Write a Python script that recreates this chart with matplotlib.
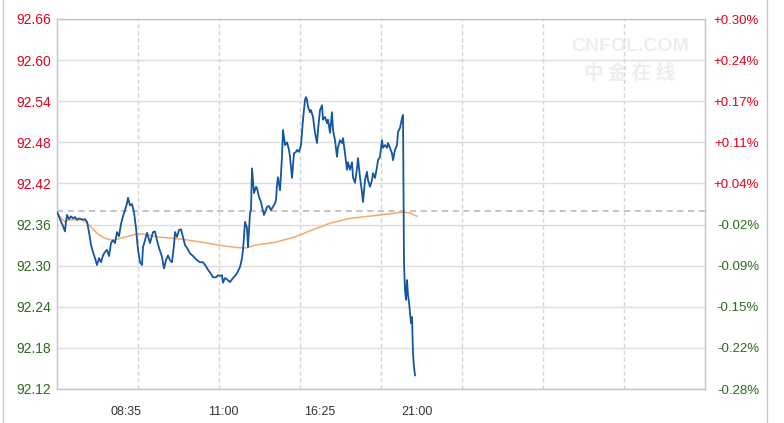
import matplotlib
matplotlib.use("Agg")
import matplotlib.pyplot as plt
from matplotlib.lines import Line2D

plt.rcParams['font.family'] = ['Liberation Sans', 'DejaVu Sans']

# ---- data ----
base_price = 92.38
y_ticks = [92.12, 92.18, 92.24, 92.30, 92.36, 92.42, 92.48, 92.54, 92.60, 92.66]
y_tick_labels = ["92.12", "92.18", "92.24", "92.30", "92.36", "92.42", "92.48", "92.54", "92.60", "92.66"]
pct_labels = ["-0.28%", "-0.22%", "-0.15%", "-0.09%", "-0.02%", "+0.04%", "+0.11%", "+0.17%", "+0.24%", "+0.30%"]
x_labels = ["08:35", "11:00", "16:25", "21:00"]
x_label_pos = [69, 166, 263, 360]

price_t = [0, 2, 4, 6, 8, 9, 10, 12, 14, 16, 18, 20, 22, 24, 26, 28, 30, 32, 34, 36, 38, 40,
           42, 44, 46, 48, 50, 52, 54, 56, 58, 60, 62, 64, 66, 68, 70, 71, 73, 75, 77, 79, 81,
           83, 85, 86, 88, 90, 93, 96, 98, 100, 102, 105, 107, 109, 111, 113, 115, 117, 118,
           120, 122, 124, 126, 128, 130, 133, 136, 140, 143, 146, 149, 151, 154, 156, 159, 161,
           163, 165, 166, 168, 170, 173, 176, 178, 180, 183, 185, 186, 187, 188, 190, 191, 193,
           194, 195, 197, 199, 200, 202, 204, 205, 207, 209, 210, 212, 214, 216, 218, 219, 220,
           221, 223, 225, 226, 228, 230, 232, 233, 235, 237, 239, 240, 242, 244, 246, 248, 249,
           250, 251, 253, 254, 256, 258, 260, 261, 263, 265, 266, 268, 270, 271, 273, 275, 276,
           278, 280, 281, 283, 285, 286, 288, 290, 291, 293, 295, 296, 298, 300, 301, 303, 305,
           306, 308, 310, 311, 313, 315, 316, 318, 320, 321, 323, 325, 326, 328, 330, 331, 333,
           335, 336, 338, 340, 341, 343, 345, 346, 347, 348, 349, 350, 351, 352, 353, 354, 355,
           356, 357, 358]
price = [92.378, 92.372, 92.364, 92.358, 92.350, 92.364, 92.374, 92.368, 92.372, 92.369, 92.371,
         92.367, 92.369, 92.368, 92.367, 92.368, 92.364, 92.349, 92.330, 92.320, 92.311, 92.301,
         92.311, 92.305, 92.315, 92.320, 92.323, 92.314, 92.333, 92.337, 92.333, 92.349, 92.343,
         92.361, 92.372, 92.381, 92.391, 92.399, 92.388, 92.390, 92.378, 92.355, 92.323, 92.305,
         92.301, 92.327, 92.337, 92.348, 92.333, 92.349, 92.350, 92.337, 92.326, 92.313, 92.296,
         92.308, 92.315, 92.308, 92.305, 92.330, 92.349, 92.342, 92.352, 92.353, 92.342, 92.330,
         92.326, 92.318, 92.314, 92.308, 92.305, 92.305, 92.299, 92.294, 92.288, 92.283, 92.283,
         92.286, 92.285, 92.286, 92.275, 92.282, 92.280, 92.276, 92.282, 92.285, 92.289, 92.298,
         92.311, 92.323, 92.342, 92.364, 92.355, 92.327, 92.377, 92.381, 92.442, 92.406, 92.415,
         92.413, 92.400, 92.393, 92.386, 92.374, 92.381, 92.386, 92.387, 92.381, 92.386, 92.391,
         92.396, 92.418, 92.429, 92.410, 92.459, 92.498, 92.476, 92.480, 92.469, 92.459, 92.428,
         92.464, 92.466, 92.469, 92.466, 92.476, 92.513, 92.542, 92.546, 92.542, 92.532, 92.524,
         92.527, 92.517, 92.494, 92.479, 92.498, 92.527, 92.534, 92.513, 92.517, 92.508, 92.513,
         92.494, 92.524, 92.498, 92.483, 92.459, 92.473, 92.483, 92.479, 92.486, 92.464, 92.440,
         92.451, 92.440, 92.451, 92.429, 92.421, 92.442, 92.457, 92.429, 92.407, 92.393, 92.425,
         92.437, 92.425, 92.415, 92.425, 92.435, 92.428, 92.444, 92.454, 92.459, 92.483, 92.472,
         92.476, 92.472, 92.479, 92.472, 92.464, 92.454, 92.469, 92.476, 92.495, 92.501, 92.515,
         92.520, 92.304, 92.264, 92.250, 92.279, 92.257, 92.247, 92.231, 92.216, 92.225, 92.172,
         92.152, 92.140]

avg_t = [0, 5, 8, 11, 18, 25, 30, 35, 41, 48, 55, 61, 71, 80, 86, 100, 116, 133, 150, 166,
         183, 190, 198, 213, 218, 238, 255, 273, 293, 323, 346, 353, 360]
avg_price = [92.377, 92.368, 92.364, 92.367, 92.367, 92.367, 92.362, 92.355, 92.346, 92.340,
             92.337, 92.339, 92.343, 92.346, 92.346, 92.342, 92.340, 92.337, 92.333, 92.329,
             92.326, 92.326, 92.330, 92.333, 92.334, 92.342, 92.352, 92.362, 92.369, 92.374,
             92.378, 92.377, 92.372]

RED = "#e0001b"
GREEN = "#2f6a1f"

W, H = 784, 423
fig = plt.figure(figsize=(W / 100, H / 100), dpi=100)
fig.patch.set_facecolor("white")
ax = fig.add_axes([57 / W, (H - 389) / H, (705 - 57) / W, (389 - 19) / H])

ax.set_xlim(0, 648)
ax.set_ylim(y_ticks[0], y_ticks[-1])

# grid
for yv in y_ticks:
    ax.axhline(yv, color="#dedede", lw=1.0, zorder=1)
for k in range(1, 8):
    ax.axvline(648 / 8 * k, color="#d4d4d4", lw=1.0, ls=(0, (3, 2)), zorder=1)

# watermark
ax.text(0.884, 0.925, "CNFOL.COM", transform=ax.transAxes, ha="center", va="center",
        fontsize=14, fontweight="bold", color="#eeeeee", zorder=0)
ax.text(0.884, 0.852, "中 金 在 线", transform=ax.transAxes, ha="center", va="center",
        fontsize=14, fontweight="bold", color="#eeeeee", zorder=0,
        family=["Noto Sans CJK SC", "DejaVu Sans"])

# base line
ax.axhline(base_price, color="#b4b4b4", lw=1.1, ls=(0, (4, 3)), zorder=2)

ax.plot(avg_t, avg_price, color="#f2ab66", lw=1.1, zorder=3)
ax.plot(price_t, price, color="#1456a0", lw=1.3, zorder=4)

for s in ax.spines.values():
    s.set_color("#c4c4c4")
    s.set_linewidth(1.0)

ax.set_yticks(y_ticks)
ax.set_yticklabels(y_tick_labels, fontsize=10)
ax.tick_params(axis="y", length=0, pad=4)
for lbl, yv in zip(ax.get_yticklabels(), y_ticks):
    lbl.set_color(RED if yv > base_price else GREEN)

ax.set_xticks(x_label_pos)
ax.set_xticklabels(x_labels, fontsize=9, color="#333333")
ax.tick_params(axis="x", length=0, pad=12)

ax2 = ax.twinx()
ax2.set_ylim(ax.get_ylim())
ax2.set_yticks(y_ticks)
ax2.set_yticklabels(pct_labels, fontsize=9.5)
ax2.tick_params(axis="y", length=0, pad=54 * 0.72)
for lbl, yv in zip(ax2.get_yticklabels(), y_ticks):
    lbl.set_color(RED if yv > base_price else GREEN)
    lbl.set_horizontalalignment("right")
for s in ax2.spines.values():
    s.set_visible(False)

# outer border lines
fig.add_artist(Line2D([3 / W, 3 / W], [0, 1], transform=fig.transFigure, color="#c8c8c8", lw=1))
fig.add_artist(Line2D([767 / W, 767 / W], [0, 1], transform=fig.transFigure, color="#c8c8c8", lw=1))

fig.savefig("out.png", dpi=100)
